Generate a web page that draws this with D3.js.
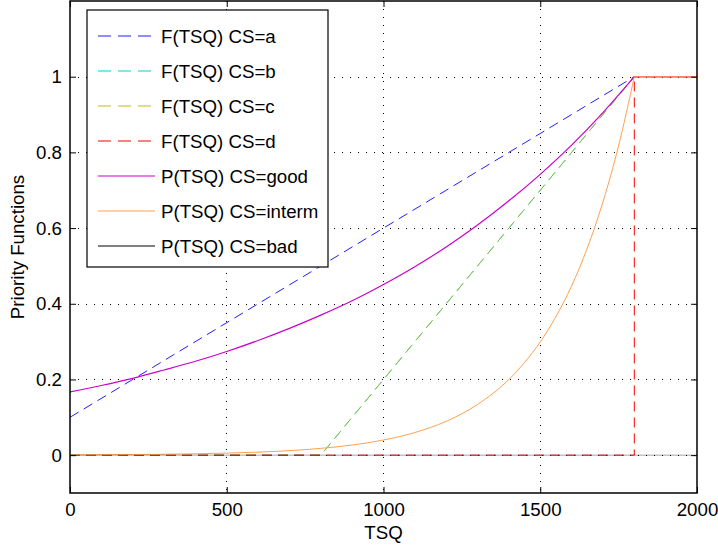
<!DOCTYPE html>
<html><head><meta charset="utf-8">
<script src="https://cdn.jsdelivr.net/npm/d3@7"></script>
<style>body{margin:0;background:#fff;} svg{display:block;} text{font-family:"Liberation Sans",Arial,sans-serif;}</style>
</head><body><svg id="c" width="718" height="549"></svg>
<script>
// Data
const xTicks = [0, 500, 1000, 1500, 2000];
const yTicks = [0, 0.2, 0.4, 0.6, 0.8, 1];
const seriesNames = ["F(TSQ) CS=a","F(TSQ) CS=b","F(TSQ) CS=c","F(TSQ) CS=d","P(TSQ) CS=good","P(TSQ) CS=interm","P(TSQ) CS=bad"];
const fA_x = [0, 1800, 2000];
const fA_y = [0.1, 1, 1];
const fB_x = [0, 800, 1800, 2000];
const fB_y = [0, 0, 1, 1];
const fC_x = [0, 800, 1800, 2000];
const fC_y = [0, 0, 1, 1];
const fD_x = [0, 1800, 1800, 2000];
const fD_y = [0, 0, 1, 1];
const pGood_x = [0,100,200,300,400,500,600,700,800,900,1000,1100,1200,1300,1400,1500,1600,1700,1800,2000];
const pGood_y = [0.167,0.184,0.203,0.225,0.248,0.274,0.303,0.335,0.370,0.408,0.451,0.498,0.550,0.608,0.672,0.742,0.819,0.905,1,1];
const pInt_x = [0,200,400,600,700,800,900,1000,1100,1200,1300,1400,1450,1500,1550,1600,1650,1700,1750,1800,2000];
const pInt_y = [0.0007,0.0016,0.0036,0.0080,0.0119,0.0179,0.0268,0.040,0.0598,0.0894,0.134,0.200,0.245,0.299,0.366,0.447,0.547,0.669,0.818,1,1];
const pBad_x = [0, 2000];
const pBad_y = [0, 0];

const svg = d3.select("#c");
const L = 70, R = 697, T = 1, B = 493;
const x = d3.scaleLinear().domain([0, 2000]).range([L, R]);
const y = d3.scaleLinear().domain([-0.1, 1.2]).range([B, T]);
const FS = 18.7;

// grid
const g = svg.append("g");
g.selectAll(".vg").data(xTicks.slice(1, -1)).enter().append("line")
  .attr("x1", d => x(d)).attr("x2", d => x(d)).attr("y1", T).attr("y2", B)
  .attr("stroke", "#000").attr("stroke-width", 1).attr("stroke-dasharray", "1,7").attr("shape-rendering","crispEdges");
g.selectAll(".hg").data(yTicks).enter().append("line")
  .attr("y1", d => Math.round(y(d))+0.5).attr("y2", d => Math.round(y(d))+0.5).attr("x1", L).attr("x2", R)
  .attr("stroke", "#000").attr("stroke-width", 1).attr("stroke-dasharray", "1,7");

// lines
const specs = [
  {xs: fA_x, ys: fA_y, color: "#1f1fff", dash: "10,6", w: 1, smooth: false},
  {xs: fB_x, ys: fB_y, color: "#00d0d0", dash: "10,6", w: 1, smooth: false},
  {xs: fC_x, ys: fC_y, color: "#b8b800", dash: "10,6", w: 1, smooth: false, op: 0.75},
  {xs: fD_x, ys: fD_y, color: "#ff0000", dash: "10,6", w: 1, smooth: false},
  {xs: pGood_x, ys: pGood_y, color: "#cc00cc", dash: null, w: 1.2, smooth: true},
  {xs: pInt_x, ys: pInt_y, color: "#ffa050", dash: null, w: 1, smooth: true},
  {xs: pBad_x, ys: pBad_y, color: "#000", dash: null, w: 0.6, smooth: false, op: 0.6, legendColor: "#000", legendOp: 1}
];
const plot = svg.append("g");
specs.forEach(s => {
  const pts = s.xs.map((v, i) => [v, s.ys[i]]);
  let d;
  if (s.smooth) {
    const curvePts = pts.filter(p => p[0] <= 1800);
    const tail = pts.filter(p => p[0] >= 1800);
    d = d3.line().x(p => x(p[0])).y(p => y(p[1])).curve(d3.curveMonotoneX)(curvePts)
      + d3.line().x(p => x(p[0])).y(p => y(p[1]))(tail).replace(/^M/, "L");
  } else {
    d = d3.line().x(p => x(p[0])).y(p => y(p[1]))(pts);
  }
  plot.append("path").attr("d", d)
    .attr("fill", "none").attr("stroke", s.color).attr("stroke-width", s.w)
    .attr("stroke-dasharray", s.dash).attr("stroke-opacity", s.op || 1);
});

// box + ticks
svg.append("rect").attr("x", L).attr("y", T).attr("width", R - L).attr("height", B - T)
  .attr("fill", "none").attr("stroke", "#000").attr("stroke-width", 1.5);
const xa = svg.append("g").attr("transform", `translate(0,${B})`)
  .call(d3.axisBottom(x).tickValues(xTicks).tickSize(-6).tickPadding(10).tickFormat(d3.format("d")));
const xt = svg.append("g").attr("transform", `translate(0,${T})`)
  .call(d3.axisTop(x).tickValues(xTicks).tickSize(-6).tickFormat(""));
const ya = svg.append("g").attr("transform", `translate(${L},0)`)
  .call(d3.axisLeft(y).tickValues(yTicks).tickSize(-6).tickPadding(6).tickFormat(d => d === 0 ? "0" : d === 1 ? "1" : d3.format(".1f")(d)));
const yr = svg.append("g").attr("transform", `translate(${R},0)`)
  .call(d3.axisRight(y).tickValues(yTicks).tickSize(-6).tickFormat(""));
[xa, xt, ya, yr].forEach(a => {
  a.select(".domain").remove();
  a.selectAll("line").attr("stroke", "#000");
  a.selectAll("text").attr("font-size", FS).attr("fill", "#000").style("font-family", '"Liberation Sans",Arial,sans-serif');
});
ya.selectAll("text").attr("dx", "-2");

svg.append("text").attr("x", (L + R) / 2).attr("y", 539).attr("text-anchor", "middle")
  .attr("font-size", FS).text("TSQ");
svg.append("text").attr("transform", `translate(24,${(T + B) / 2}) rotate(-90)`)
  .attr("text-anchor", "middle").attr("font-size", FS).text("Priority Functions");

// legend
const lg = svg.append("g");
lg.append("rect").attr("x", 87).attr("y", 10).attr("width", 241).attr("height", 257)
  .attr("fill", "#fff").attr("stroke", "#000").attr("stroke-width", 1.2);
seriesNames.forEach((n, i) => {
  const yy = 36 + i * 35;
  const s = specs[i];
  lg.append("line").attr("x1", 98).attr("x2", 155).attr("y1", yy).attr("y2", yy)
    .attr("stroke", s.legendColor || s.color).attr("stroke-width", s.legendColor ? 1 : s.w)
    .attr("stroke-dasharray", s.dash ? "13,7" : null)
    .attr("stroke-opacity", s.legendOp || (s.op ? Math.min(1, s.op + 0.2) : 1));
  lg.append("text").attr("x", 161).attr("y", yy).attr("dy", "0.35em").attr("font-size", FS).text(n);
});
</script></body></html>
